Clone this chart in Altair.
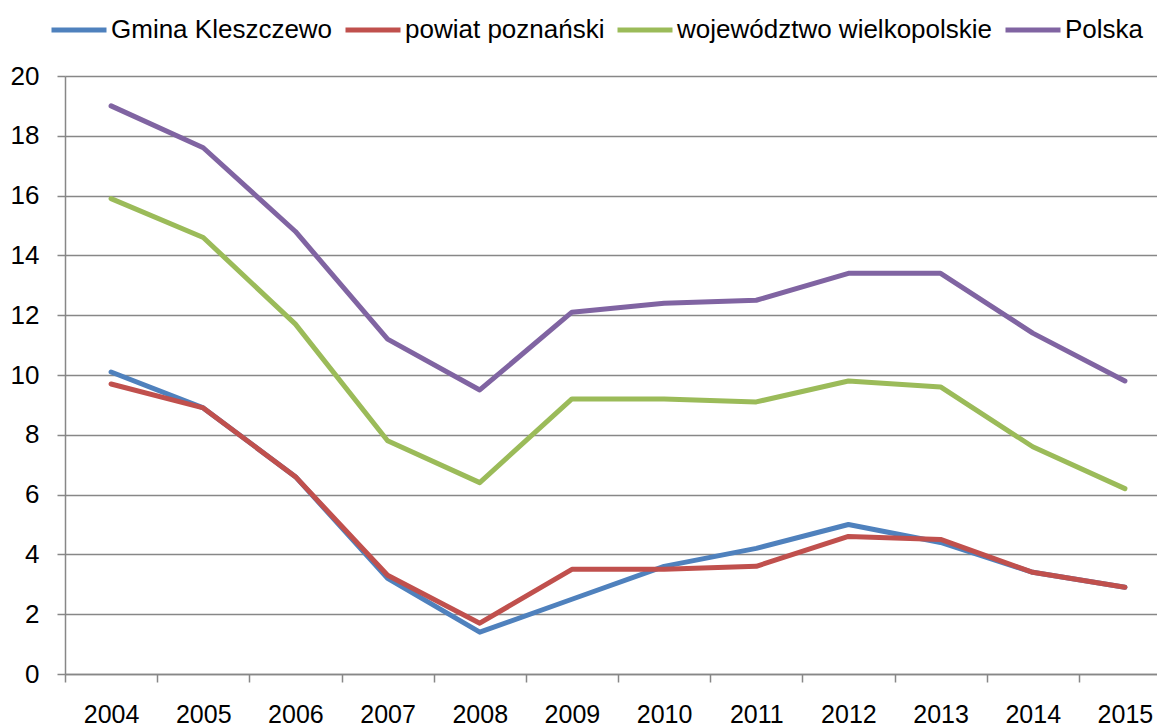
import altair as alt
import pandas as pd

years = [str(y) for y in range(2004, 2016)]
series_names = ["Gmina Kleszczewo", "powiat poznański", "województwo wielkopolskie", "Polska"]
gmina = [10.1, 8.9, 6.6, 3.2, 1.4, 2.5, 3.6, 4.2, 5.0, 4.4, 3.4, 2.9]
powiat = [9.7, 8.9, 6.6, 3.3, 1.7, 3.5, 3.5, 3.6, 4.6, 4.5, 3.4, 2.9]
wojewodztwo = [15.9, 14.6, 11.7, 7.8, 6.4, 9.2, 9.2, 9.1, 9.8, 9.6, 7.6, 6.2]
polska = [19.0, 17.6, 14.8, 11.2, 9.5, 12.1, 12.4, 12.5, 13.4, 13.4, 11.4, 9.8]
colors = ["#4F81BD", "#C0504D", "#9BBB59", "#8064A2"]
y_ticks = [0, 2, 4, 6, 8, 10, 12, 14, 16, 18, 20]

rows = []
for name, vals in zip(series_names, [gmina, powiat, wojewodztwo, polska]):
    for yr, v in zip(years, vals):
        rows.append({"rok": yr, "seria": name, "wartosc": v})
df = pd.DataFrame(rows)

FONT = "Liberation Sans"
GRID = "#878787"

chart = alt.Chart(df).mark_line(
    strokeWidth=5, strokeCap="round", strokeJoin="round"
).encode(
    x=alt.X(
        "rok:N",
        sort=years,
        title=None,
        scale=alt.Scale(type="band", paddingInner=0, paddingOuter=0, range=[0, 1106]),
        axis=alt.Axis(
            labelAngle=0,
            labelFont=FONT,
            labelFontSize=25,
            labelColor="#000000",
            labelPadding=20,
            tickSize=8,
            tickColor=GRID,
            tickWidth=1.5,
            domainColor=GRID,
            domainWidth=1.5,
            tickBand="extent",
            grid=False,
        ),
    ),
    y=alt.Y(
        "wartosc:Q",
        title=None,
        scale=alt.Scale(domain=[0, 20], nice=False, zero=True),
        axis=alt.Axis(
            values=y_ticks,
            labelFont=FONT,
            labelFontSize=26,
            labelColor="#000000",
            labelPadding=18,
            tickSize=8,
            tickColor=GRID,
            tickWidth=1.5,
            domainColor=GRID,
            domainWidth=1.5,
            gridColor=GRID,
            gridWidth=1.5,
            grid=True,
        ),
    ),
    color=alt.Color(
        "seria:N",
        sort=series_names,
        scale=alt.Scale(domain=series_names, range=colors),
        legend=alt.Legend(
            title=None,
            orient="none",
            direction="horizontal",
            legendX=-16,
            legendY=-76,
            symbolType="stroke",
            symbolSize=3025,
            symbolStrokeWidth=5,
            labelFont=FONT,
            labelFontSize=26,
            labelColor="#000000",
            labelLimit=0,
            labelOffset=2,
            columnPadding=2,
            padding=0,
        ),
    ),
).properties(
    width=1092,
    height=598,
    autosize=alt.AutoSizeParams(type="none"),
    padding={"left": 57, "top": 68, "right": 0, "bottom": 60},
).configure_view(
    stroke=None
).configure(
    background="#ffffff"
)

chart.save("out.html", embed_options={"renderer": "svg", "actions": False})
